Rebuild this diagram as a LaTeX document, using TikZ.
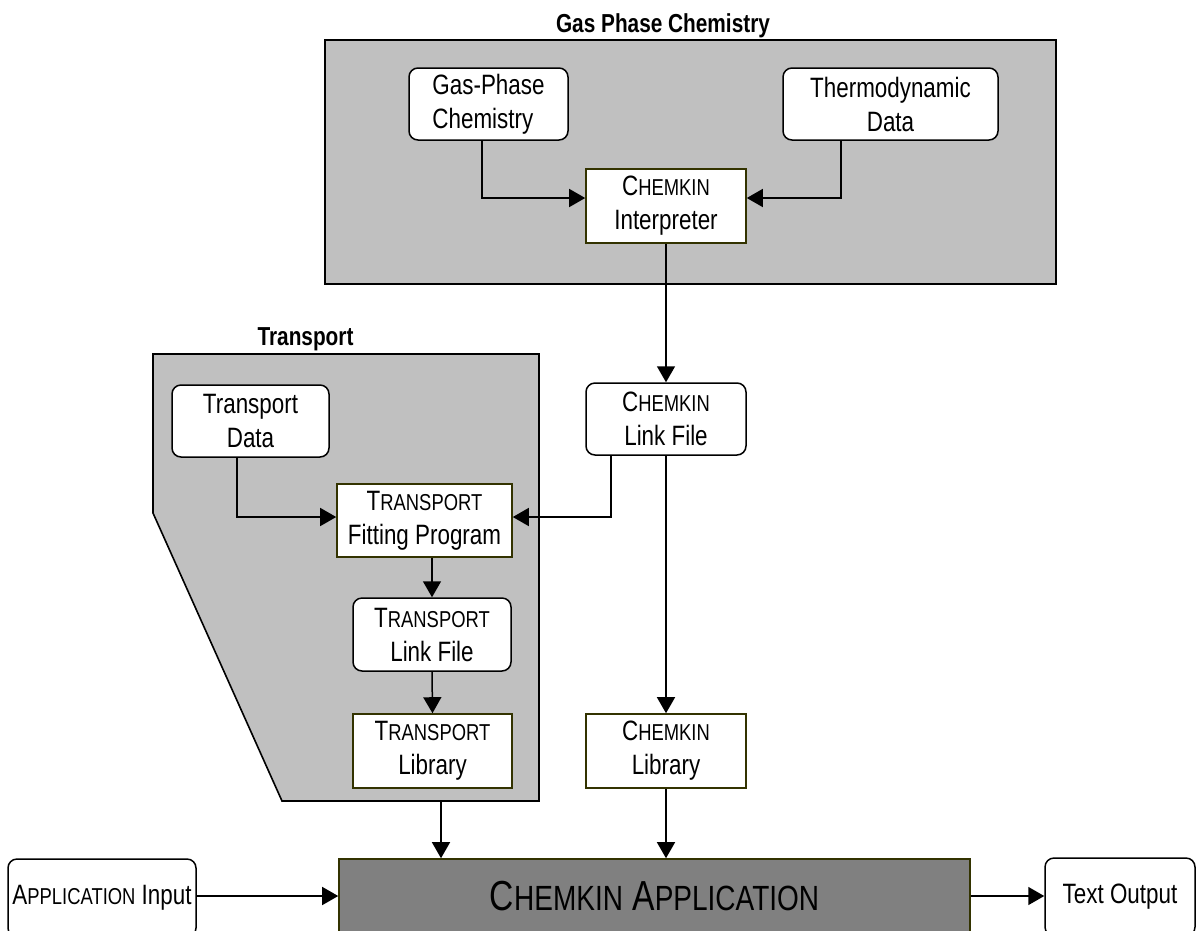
\documentclass[tikz,border=0pt]{standalone}
\usepackage{fontspec}
\setmainfont{Liberation Sans}[FakeStretch=0.8]
\usetikzlibrary{arrows.meta}
\definecolor{panelgray}{RGB}{192,192,192}
\definecolor{appgray}{RGB}{128,128,128}
\definecolor{olivedark}{RGB}{51,51,0}
\newcommand\nsz{\fontsize{28}{34}\selectfont}
\newcommand\smc[1]{{\fontsize{23}{34}\selectfont #1}}
\newcommand\bsmc[1]{{\fontsize{35}{48}\selectfont #1}}
\begin{document}
\begin{tikzpicture}[x=1pt,y=-1pt,
  panel/.style={draw=black, fill=panelgray, line width=1.6pt},
  rbox/.style={draw=black, fill=white, rounded corners=9pt, line width=1.5pt,
    align=center, inner sep=0pt, font=\nsz},
  sbox/.style={draw=olivedark, fill=white, line width=1.6pt,
    align=center, inner sep=0pt, font=\nsz},
  appbox/.style={draw=olivedark, fill=appgray, line width=1.6pt,
    align=center, inner sep=0pt},
  title/.style={anchor=base, font=\fontsize{26}{30}\selectfont\bfseries, inner sep=0pt},
  arr/.style={line width=1.5pt, -{Triangle[length=16pt,width=18pt]}}
]
\clip (0,0) rectangle (1196,930);
\fill[white] (0,0) rectangle (1196,930);

% panels
\draw[panel] (325,40) rectangle (1056,284);
\draw[panel] (153,354) -- (539,354) -- (539,801) -- (282,801) -- (153,513) -- cycle;
\node[title] (gtitle) at (663,32) {Gas Phase Chemistry};
\node[title] (ttitle) at (305.5,345) {Transport};

% gas phase nodes
\node[rbox, minimum width=159pt, minimum height=72pt, align=left] (gpc) at (488.5,104) {Gas-Phase\\Chemistry};
\node[rbox, minimum width=215pt, minimum height=72pt] (thermo) at (890.5,104) {Thermodynamic\\Data};
\node[sbox, minimum width=160pt, minimum height=74pt] (interp) at (666,206) {C\smc{HEMKIN}\\Interpreter};

% chemkin column
\node[rbox, minimum width=160pt, minimum height=72pt] (clink) at (666,419) {C\smc{HEMKIN}\\Link File};
\node[sbox, minimum width=160pt, minimum height=74pt] (clib) at (666,751) {C\smc{HEMKIN}\\Library};

% transport nodes
\node[rbox, minimum width=157pt, minimum height=72pt] (tdata) at (250.5,421) {Transport\\Data};
\node[sbox, minimum width=175pt, minimum height=73pt] (fit) at (424.5,520.5) {T\smc{RANSPORT}\\Fitting Program};
\node[rbox, minimum width=158pt, minimum height=73pt] (tlink) at (432,634.5) {T\smc{RANSPORT}\\Link File};
\node[sbox, minimum width=159pt, minimum height=74pt] (tlib) at (432.5,751) {T\smc{RANSPORT}\\Library};

% bottom row
\node[appbox, minimum width=631pt, minimum height=74pt] (app) at (654.5,896)
  {\fontsize{42}{48}\selectfont C\bsmc{HEMKIN} A\bsmc{PPLICATION}};
\node[rbox, minimum width=188pt, minimum height=78pt] (input) at (102,898) {A\smc{PPLICATION} Input};
\node[rbox, minimum width=150pt, minimum height=78pt] (tout) at (1120,897) {Text Output};

\coordinate (tbot) at (441,801);

% connectors
\draw[arr] ([xshift=-6.5pt]gpc.south) |- ([yshift=8pt]interp.west);
\draw[arr] ([xshift=-49.5pt]thermo.south) |- ([yshift=8pt]interp.east);
\draw[arr] (interp.south) -- (clink.north);
\draw[arr] ([xshift=-55pt]clink.south) |- ([yshift=3.5pt]fit.east);
\draw[arr] ([xshift=-13.5pt]tdata.south) |- ([yshift=3.5pt]fit.west);
\draw[arr] (tlink.north |- fit.south) -- (tlink.north);
\draw[arr] (tlink.south) -- (tlib.north);
\draw[arr] (clink.south) -- (clib.north);
\draw[arr] (tbot) -- (tbot |- app.north);
\draw[arr] (clib.south) -- (clib.south |- app.north);
\draw[arr] (input.east |- app.west) -- (app.west);
\draw[arr] (app.east) -- (app.east -| tout.west);
\end{tikzpicture}
\end{document}
